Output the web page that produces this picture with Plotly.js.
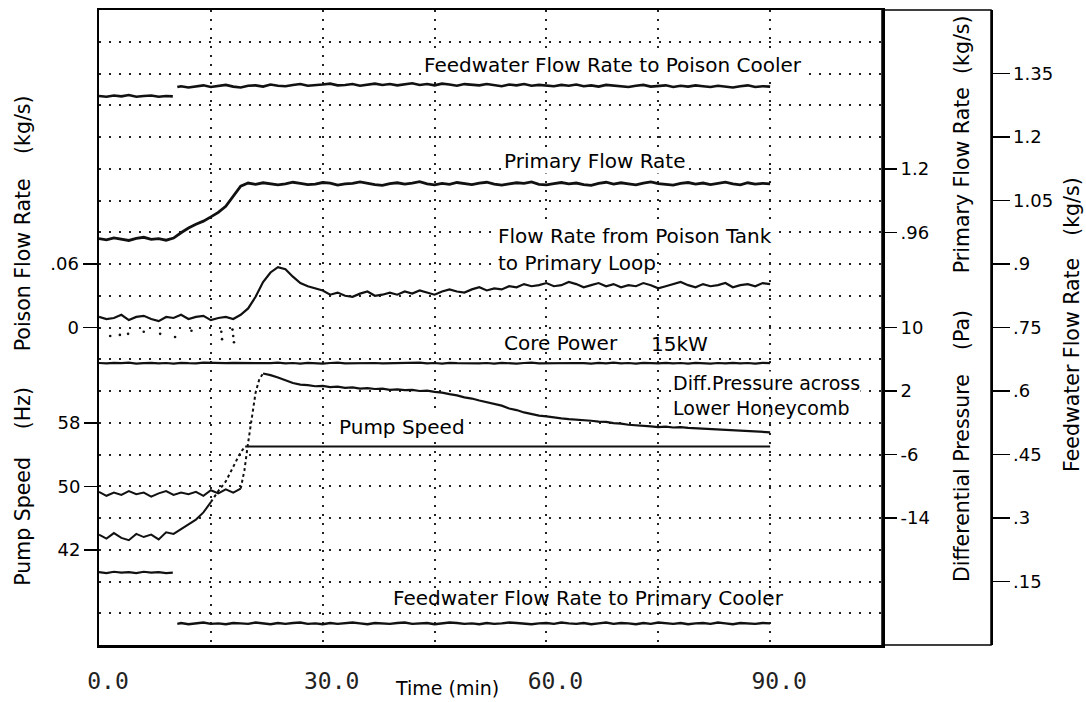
<!DOCTYPE html>
<html>
<head>
<meta charset="utf-8">
<script src="https://cdn.plot.ly/plotly-3.0.1.min.js"></script>
<style>
  html, body { margin: 0; padding: 0; background: #fff; }
  #chart { width: 1086px; height: 702px; }
</style>
</head>
<body>
<div id="chart"></div>
<script>
// Sampling times (min)
const minutes = [0,1,2,3,4,5,6,7,8,9,10,11,12,13,14,15,16,17,18,19,20,21,22,23,24,25,26,27,28,29,30,
  31,32,33,34,35,36,37,38,39,40,41,42,43,44,45,46,47,48,49,50,51,52,53,54,55,56,57,58,59,60,
  61,62,63,64,65,66,67,68,69,70,71,72,73,74,75,76,77,78,79,80,81,82,83,84,85,86,87,88,89,90];

// Feedwater flow rate to poison cooler (kg/s), before and after the step
const fwPoisonTimeA = [0,1,2,3,4,5,6,7,8,9,9.9];
const fwPoisonA = [1.297,1.295,1.298,1.296,1.299,1.295,1.297,1.298,1.295,1.297,1.296];
const fwPoisonTimeB = [10.5,11,12,13,14,15,16,17,18,19,20,21,22,23,24,25,26,27,28,29,30,
  31,32,33,34,35,36,37,38,39,40,41,42,43,44,45,46,47,48,49,50,51,52,53,54,55,56,57,58,59,60,
  61,62,63,64,65,66,67,68,69,70,71,72,73,74,75,76,77,78,79,80,81,82,83,84,85,86,87,88,89,90];
const fwPoisonB = [1.318,
  1.320,1.317,1.319,1.322,1.318,1.320,1.323,1.319,1.317,1.321,
  1.322,1.319,1.324,1.321,1.320,1.323,1.325,1.321,1.322,1.324,
  1.326,1.322,1.323,1.325,1.321,1.324,1.326,1.323,1.325,1.322,
  1.324,1.327,1.323,1.325,1.322,1.326,1.324,1.321,1.325,1.323,
  1.322,1.325,1.323,1.320,1.324,1.322,1.325,1.321,1.323,1.322,
  1.320,1.323,1.321,1.324,1.320,1.322,1.319,1.323,1.321,1.320,
  1.318,1.321,1.323,1.319,1.320,1.322,1.318,1.321,1.319,1.322,
  1.320,1.318,1.321,1.319,1.317,1.320,1.322,1.318,1.320,1.319];

// Feedwater flow rate to primary cooler (kg/s)
const fwPrimaryA = [0.172,0.170,0.173,0.171,0.172,0.170,0.173,0.171,0.172,0.170,0.171];
const fwPrimaryB = [0.050,
  0.052,0.049,0.051,0.053,0.050,0.051,0.049,0.052,0.051,0.050,
  0.053,0.051,0.049,0.052,0.050,0.052,0.053,0.050,0.051,0.049,
  0.052,0.050,0.051,0.053,0.051,0.049,0.052,0.051,0.050,0.052,
  0.053,0.050,0.051,0.052,0.049,0.051,0.053,0.052,0.050,0.051,
  0.049,0.052,0.050,0.051,0.053,0.052,0.050,0.049,0.051,0.052,
  0.050,0.053,0.051,0.050,0.052,0.049,0.051,0.053,0.050,0.052,
  0.051,0.049,0.052,0.050,0.053,0.051,0.050,0.052,0.049,0.051,
  0.052,0.050,0.053,0.051,0.049,0.052,0.051,0.050,0.052,0.051];

// Primary flow rate (kg/s)
const primaryFlow = [
  0.936,0.931,0.939,0.934,0.929,0.937,0.941,0.933,0.936,0.930,
  0.938,0.958,0.976,0.990,1.002,1.018,1.035,1.058,1.094,1.134,
  1.146,1.141,1.147,1.144,1.139,1.143,1.149,1.145,1.140,1.142,
  1.148,1.146,1.138,1.143,1.145,1.150,1.144,1.140,1.137,1.144,
  1.147,1.142,1.146,1.151,1.143,1.139,1.145,1.141,1.148,1.144,
  1.140,1.146,1.149,1.142,1.138,1.143,1.147,1.145,1.150,1.141,
  1.139,1.144,1.148,1.143,1.146,1.140,1.137,1.145,1.149,1.142,
  1.147,1.143,1.139,1.146,1.150,1.144,1.141,1.138,1.145,1.148,
  1.142,1.146,1.140,1.144,1.149,1.143,1.139,1.147,1.142,1.145,
  1.143];

// Flow rate from poison tank to primary loop (kg/s)
const poisonFlow = [
  0.010,0.008,0.009,0.012,0.007,0.010,0.011,0.008,0.006,0.010,
  0.009,0.012,0.008,0.010,0.011,0.007,0.009,0.010,0.008,0.012,
  0.018,0.029,0.043,0.052,0.057,0.055,0.048,0.042,0.039,0.037,
  0.035,0.031,0.033,0.030,0.029,0.032,0.034,0.030,0.031,0.033,
  0.031,0.034,0.032,0.035,0.033,0.031,0.034,0.036,0.034,0.033,
  0.036,0.038,0.035,0.037,0.036,0.039,0.038,0.041,0.039,0.040,
  0.042,0.039,0.040,0.043,0.041,0.038,0.040,0.042,0.039,0.041,
  0.038,0.040,0.039,0.042,0.040,0.037,0.039,0.041,0.043,0.040,
  0.038,0.041,0.039,0.040,0.042,0.038,0.040,0.041,0.039,0.042,
  0.041];

// Scattered low readings of the poison flow signal
const poisonSpikeTime = [1.5,2.8,3.9,6.0,8.2,10.2,12.4,16.4,16.5,17.9,18.0,18.1];
const poisonSpike = [-0.008,-0.007,-0.006,-0.004,-0.006,-0.009,-0.003,-0.004,-0.011,-0.002,-0.008,-0.014];

// Core power (kW)
const corePower = [
  15.01,14.99,15.02,15.00,15.03,14.98,15.00,15.02,14.99,15.01,
  14.98,15.02,15.00,14.99,15.03,15.01,14.98,15.00,15.02,15.01,
  14.99,15.02,14.98,15.00,15.03,14.99,15.01,14.98,15.02,15.00,
  14.98,15.01,15.03,14.99,15.00,14.98,15.02,15.01,14.99,15.00,
  14.98,15.02,15.00,15.03,14.99,15.01,14.98,15.02,15.00,14.99,
  15.02,14.99,15.01,14.98,15.02,15.00,14.98,15.01,15.03,14.99,
  15.00,14.98,15.02,14.99,15.01,15.00,14.98,15.02,14.99,15.03,
  14.99,15.01,14.98,15.02,15.00,14.99,15.02,14.99,15.01,14.98,
  15.02,15.00,14.98,15.01,14.99,15.02,14.99,15.01,14.98,15.02,
  15.00];

// Differential pressure across lower honeycomb (Pa)
const dpTimeA = [0,1,2,3,4,5,6,7,8,9,10,11,12,13,14,15,16,17,18,19];
const dpA = [-10.7,-11.2,-10.8,-11.1,-10.6,-11.0,-10.8,-11.3,-10.9,-10.6,
  -11.1,-10.8,-11.0,-10.7,-11.2,-10.5,-10.9,-10.4,-10.8,-10.3];
const dpTimeB = [19,19.5,20,20.5,21,21.5,22];
const dpB = [-10.3,-8.0,-4.5,-1.0,1.8,3.5,4.2];
const dpTimeC = [22,23,24,25,26,27,28,29,30,31,32,33,34,35,36,37,38,39,40,
  41,42,43,44,45,46,47,48,49,50,51,52,53,54,55,56,57,58,59,60,
  61,62,63,64,65,66,67,68,69,70,71,72,73,74,75,76,77,78,79,80,81,82,83,84,85,86,87,88,89,90];
const dpC = [4.2,4.0,3.7,3.3,3.0,2.8,2.75,2.6,2.65,2.5,2.55,2.4,2.45,2.3,2.35,2.25,2.3,2.15,2.2,
  2.1,2.15,2.0,2.05,1.9,1.8,1.6,1.45,1.2,1.05,0.8,0.6,0.35,0.15,-0.2,-0.4,-0.7,-0.9,-1.1,-1.2,
  -1.35,-1.45,-1.55,-1.6,-1.7,-1.75,-1.85,-1.9,-2.05,-2.1,-2.25,-2.3,-2.4,-2.45,-2.55,-2.5,-2.6,-2.55,-2.65,-2.7,
  -2.7,-2.8,-2.8,-2.9,-2.9,-3.0,-3.05,-3.05,-3.15,-3.2];

// Pump speed (Hz)
const pumpTimeA = [0,1,2,3,4,5,6,7,8,9,10,11,12,13,14,15];
const pumpA = [43.9,43.4,44.1,43.5,43.2,44.0,43.6,43.9,43.3,44.2,44.0,44.6,45.3,45.8,46.7,48.0];
const pumpTimeB = [15,16,17,18,19,19.6];
const pumpB = [48.0,49.4,50.6,52.4,54.3,55.0];
const pumpTimeC = [19.6,90];
const pumpC = [55.0,55.0];

// Axis tick values and labels
const timeTicks = [0,15,30,45,60,75,90];
const timeTickText = ['0.0','','30.0','','60.0','','90.0'];
const poisonTicks = [0,0.06];
const poisonTickText = ['0','.06'];
const pumpTicks = [42,50,58];
const primaryTicks = [0.96,1.2];
const primaryTickText = ['.96','1.2'];
const dpTicks = [-14,-6,2,10];
const dpTickText = ['-14','-6','2','10'];
const feedTicks = [0.15,0.3,0.45,0.6,0.75,0.9,1.05,1.2,1.35];
const feedTickText = ['.15','.3','.45','.6','.75','.9','1.05','1.2','1.35'];
const gridDivisions = [1,2,3,4,5,6,7,8,9,10,11,12,13,14,15,16,17,18,19];

const INK = '#111';
function line(x, y, yaxis, width, dash) {
  return {
    type: 'scatter', mode: 'lines', x: x, y: y, yaxis: yaxis,
    line: {color: INK, width: width, dash: dash || 'solid', shape: 'linear'},
    hoverinfo: 'skip'
  };
}

const traces = [
  line(fwPoisonTimeA, fwPoisonA, 'y5', 2.6),
  line(fwPoisonTimeB, fwPoisonB, 'y5', 2.6),
  line(minutes, primaryFlow, 'y3', 2.8),
  line(minutes, poisonFlow, 'y', 2.2),
  {type: 'scatter', mode: 'markers', x: poisonSpikeTime, y: poisonSpike, yaxis: 'y',
   marker: {color: INK, size: 2.6}, hoverinfo: 'skip'},
  line(minutes, corePower, 'y7', 2.2),
  line(dpTimeA, dpA, 'y4', 2),
  line(dpTimeB, dpB, 'y4', 2, '3px,3px'),
  line(dpTimeC, dpC, 'y4', 2.2),
  line(pumpTimeA, pumpA, 'y2', 2),
  line(pumpTimeB, pumpB, 'y2', 2, '3px,3px'),
  line(pumpTimeC, pumpC, 'y2', 2),
  line(fwPoisonTimeA, fwPrimaryA, 'y5', 2.2),
  line(fwPoisonTimeB, fwPrimaryB, 'y5', 2.4),
  {type: 'scatter', mode: 'lines', x: [], y: [], yaxis: 'y6', hoverinfo: 'skip'}
];

const FONT = 'DejaVu Sans';
const tickFont = {family: FONT, size: 18, color: '#000'};
const plainAxis = {
  showgrid: false, zeroline: false, automargin: false, fixedrange: true,
  ticks: 'outside', tickwidth: 1.5, tickcolor: '#000', ticklen: 14, tickfont: tickFont
};
const XR = 783 / 892; // right edge of the main frame within the plotting band

function label(text, x, y, opts) {
  return Object.assign({
    text: text, x: x, y: y, xref: 'x', yref: 'y6', xanchor: 'left', yanchor: 'middle',
    showarrow: false, font: {family: FONT, size: 20, color: '#000'}, borderpad: 0
  }, opts || {});
}
function vtitle(text, x, y) {
  return {
    text: text, x: x, y: y, xref: 'paper', yref: 'paper', xanchor: 'center', yanchor: 'middle',
    textangle: -90, showarrow: false, font: {family: FONT, size: 20.5, color: '#000'}
  };
}

const layout = {
  width: 1086, height: 702,
  margin: {l: 99, r: 95, t: 10, b: 57, pad: 0},
  paper_bgcolor: '#fff', plot_bgcolor: '#fff',
  showlegend: false,
  font: {family: FONT, size: 18, color: '#000'},
  xaxis: {
    domain: [0, XR], range: [0, 105],
    tickvals: timeTicks, ticktext: timeTickText, ticks: '',
    tickfont: {family: 'DejaVu Sans Mono', size: 23, color: '#222'},
    ticklabelshift: 9, ticklabelstandoff: 14,
    showgrid: true, gridcolor: '#222', gridwidth: 2, griddash: '2px,7px',
    zeroline: false, showline: true, mirror: true, linecolor: '#000', linewidth: 2.5,
    automargin: false, fixedrange: true
  },
  yaxis: Object.assign({}, plainAxis, {
    range: [-0.3, 0.3], tickvals: poisonTicks, ticktext: poisonTickText,
    showline: true, mirror: true, linecolor: '#000', linewidth: 2.5
  }),
  yaxis2: Object.assign({}, plainAxis, {
    overlaying: 'y', side: 'left', anchor: 'x', range: [30, 110],
    tickvals: pumpTicks, ticktext: pumpTicks.map(String), showline: false
  }),
  yaxis3: Object.assign({}, plainAxis, {
    overlaying: 'y', side: 'right', anchor: 'x', range: [-0.6, 1.8],
    tickvals: primaryTicks, ticktext: primaryTickText, showline: false
  }),
  yaxis4: Object.assign({}, plainAxis, {
    overlaying: 'y', side: 'right', anchor: 'x', range: [-30, 50],
    tickvals: dpTicks, ticktext: dpTickText, showline: false
  }),
  yaxis5: Object.assign({}, plainAxis, {
    overlaying: 'y', side: 'right', anchor: 'free', position: 1, range: [0, 1.5],
    tickvals: feedTicks, ticktext: feedTickText, ticklen: 17,
    showline: true, linecolor: '#000', linewidth: 1.5
  }),
  yaxis6: {
    overlaying: 'y', side: 'left', anchor: 'x', range: [0, 20],
    tickvals: gridDivisions, showticklabels: false, ticks: '',
    showgrid: true, gridcolor: '#222', gridwidth: 2, griddash: '2px,8px',
    zeroline: false, showline: false, automargin: false, fixedrange: true
  },
  yaxis7: {overlaying: 'y', anchor: 'x', range: [0, 33.8], visible: false, fixedrange: true},
  shapes: [
    {type: 'rect', xref: 'paper', yref: 'paper', x0: XR, x1: 1, y0: 0, y1: 1,
     line: {color: '#000', width: 1.5}, layer: 'below'}
  ],
  annotations: [
    label('Feedwater Flow Rate to Poison Cooler', 43.45, 18.27, {bgcolor: '#fff'}),
    label('Primary Flow Rate', 54.2, 15.25, {bgcolor: '#fff'}),
    label('Flow Rate from Poison Tank', 53.4, 12.88, {bgcolor: '#fff'}),
    label('to Primary Loop', 53.4, 12.03, {bgcolor: '#fff'}),
    label('Core Power', 54.2, 9.52),
    label('15kW', 73.9, 9.48),
    label('Diff.Pressure across', 76.8, 8.25, {bgcolor: '#fff', font: {family: FONT, size: 19, color: '#000'}}),
    label('Lower Honeycomb', 76.8, 7.46, {font: {family: FONT, size: 19, color: '#000'}}),
    label('Pump Speed', 32.0, 6.87, {bgcolor: '#fff'}),
    label('Feedwater Flow Rate to Primary Cooler', 39.3, 1.48),
    {text: 'Time (min)', x: 46.7, y: -0.068, xref: 'x', yref: 'paper', xanchor: 'center', yanchor: 'middle',
     showarrow: false, font: {family: FONT, size: 19, color: '#000'}},
    vtitle('(kg/s)', -0.0852, 0.819),
    vtitle('Poison Flow Rate', -0.0852, 0.598),
    vtitle('(Hz)', -0.0852, 0.373),
    vtitle('Pump Speed', -0.0852, 0.194),
    vtitle('(kg/s)', 0.9675, 0.945),
    vtitle('Primary Flow Rate', 0.9675, 0.732),
    vtitle('(Pa)', 0.9675, 0.496),
    vtitle('Differential Pressure', 0.9675, 0.263),
    vtitle('(kg/s)', 1.0908, 0.690),
    vtitle('Feedwater Flow Rate', 1.0908, 0.441)
  ]
};

Plotly.newPlot('chart', traces, layout, {displayModeBar: false, staticPlot: true});
</script>
</body>
</html>
